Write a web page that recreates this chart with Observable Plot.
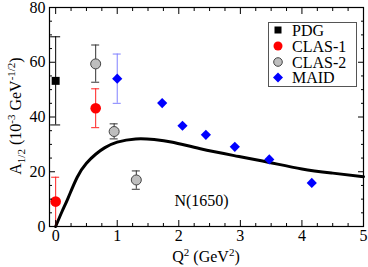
<!DOCTYPE html>
<html><head><meta charset="utf-8">
<script src="https://cdn.jsdelivr.net/npm/d3@7"></script>
<script src="https://cdn.jsdelivr.net/npm/@observablehq/plot@0.6"></script>
<style>body{margin:0;background:#fff} svg text{font-family:"Liberation Serif","Times New Roman",serif !important;}</style>
</head><body><div id="chart"></div>
<script>
// PDG
const pdgQ2 = [0.0];
const pdgA = [53.2];
const pdgLo = [37.1];
const pdgHi = [69.3];
// CLAS-1
const clas1Q2 = [0.0, 0.65];
const clas1A = [9.1, 43.2];
const clas1Lo = [0.0, 36.1];
const clas1Hi = [18.0, 50.3];
// CLAS-2
const clas2Q2 = [0.65, 0.95, 1.31];
const clas2A = [59.4, 34.7, 17.0];
const clas2Lo = [52.7, 32.0, 13.6];
const clas2Hi = [66.3, 37.5, 20.3];
// MAID
const maidQ2 = [1.0, 1.73, 2.06, 2.44, 2.91, 3.47, 4.16];
const maidA = [54.0, 45.1, 36.8, 33.5, 29.1, 24.5, 15.9];
const maidLo = [45.0, null, null, null, null, null, null];
const maidHi = [63.0, null, null, null, null, null, null];
// Model curve
const curveQ2 = [0, 0.1, 0.2, 0.35, 0.5, 0.65, 0.8, 1.0, 1.3, 1.6, 1.9, 2.35, 2.9, 3.45, 4.0, 4.5, 5.0];
const curveA  = [0, 5.3, 10.3, 18.0, 23.1, 26.4, 28.8, 30.8, 32.0, 31.8, 30.8, 28.4, 25.9, 23.5, 21.0, 19.5, 18.2];
// ticks
const xMajor = [0, 1, 2, 3, 4, 5];
const xMinor = d3.range(0, 5.001, 0.25).filter(v => Math.abs(v - Math.round(v)) > 1e-6);
const yMajor = [0, 20, 40, 60, 80];
const yMinor = d3.range(0, 80.001, 5).filter(v => v % 20 !== 0);
// annotation
const labelText = ["N(1650)"];
const labelQ2 = [2.37];
const labelA = [9.3];
// legend
const legendNames = ["PDG", "CLAS-1", "CLAS-2", "MAID"];

const mk = (X, Y, L, H) => X.map((x, i) => ({x, y: Y[i], lo: L ? L[i] : null, hi: H ? H[i] : null}));
const pdg = mk(pdgQ2, pdgA, pdgLo, pdgHi);
const clas1 = mk(clas1Q2, clas1A, clas1Lo, clas1Hi);
const clas2 = mk(clas2Q2, clas2A, clas2Lo, clas2Hi);
const maid = mk(maidQ2, maidA, maidLo, maidHi);
const maidErr = maid.filter(d => d.lo != null);
const curve = curveQ2.map((x, i) => ({x, y: curveA[i]}));
const ann = labelText.map((t, i) => ({t, x: labelQ2[i], y: labelA[i]}));

function errBars(data, color, cap) {
  return [
    Plot.ruleX(data, {x: "x", y1: "lo", y2: "hi", stroke: color, strokeWidth: 1}),
    Plot.ruleY(data, {x1: "x", x2: "x", y: "lo", stroke: color, strokeWidth: 1, insetLeft: -cap, insetRight: -cap}),
    Plot.ruleY(data, {x1: "x", x2: "x", y: "hi", stroke: color, strokeWidth: 1, insetLeft: -cap, insetRight: -cap})
  ];
}

const font = "Liberation Serif";
const plot = Plot.plot({
  width: 368, height: 267,
  marginLeft: 49, marginRight: 5, marginTop: 7, marginBottom: 41,
  style: {fontFamily: font, fontSize: "16px", background: "#fff", color: "#000"},
  x: {domain: [-0.1, 5]},
  y: {domain: [0, 80]},
  marks: [
    Plot.line(curve, {x: "x", y: "y", curve: "natural", stroke: "#000", strokeWidth: 3}),
    ...errBars(pdg, "#000", 5),
    ...errBars(clas1, "#ff2020", 4),
    ...errBars(clas2, "#333", 4),
    ...errBars(maidErr, "#8080ff", 4),
    Plot.dot(pdg, {x: "x", y: "y", symbol: "square", r: 4.5, fill: "#000", stroke: "none"}),
    Plot.dot(clas1, {x: "x", y: "y", symbol: "circle", r: 5.3, fill: "#ff0000", stroke: "none"}),
    Plot.dot(clas2, {x: "x", y: "y", symbol: "circle", r: 5, fill: "#bebebe", stroke: "#444", strokeWidth: 1}),
    Plot.dot(maid, {x: "x", y: "y", symbol: "diamond2", r: 4.6, fill: "#0000ff", stroke: "none"}),
    Plot.text(ann, {x: "x", y: "y", text: "t", fontSize: 16, fontFamily: font, fill: "#000"}),
    Plot.axisX({anchor: "bottom", ticks: xMajor, tickSize: -6, text: null, label: null}),
    Plot.axisX({anchor: "bottom", ticks: xMinor, tickSize: -3, text: null, label: null}),
    Plot.axisX({anchor: "top", ticks: xMajor, tickSize: -6, text: null, label: null}),
    Plot.axisX({anchor: "top", ticks: xMinor, tickSize: -3, text: null, label: null}),
    Plot.axisY({anchor: "left", ticks: yMajor, tickSize: -6, text: null, label: null}),
    Plot.axisY({anchor: "left", ticks: yMinor, tickSize: -3, text: null, label: null}),
    Plot.axisY({anchor: "right", ticks: yMajor, tickSize: -6, text: null, label: null}),
    Plot.axisY({anchor: "right", ticks: yMinor, tickSize: -3, text: null, label: null}),
    Plot.axisX({anchor: "bottom", ticks: xMajor, tickFormat: d3.format("d"), tickSize: 0, tickPadding: 3, label: null, fontSize: 16, fontFamily: font}),
    Plot.axisY({anchor: "left", ticks: yMajor, tickFormat: d3.format("d"), tickSize: 0, tickPadding: 4, label: null, fontSize: 16, fontFamily: font}),
    Plot.frame({stroke: "#000", strokeWidth: 1.2})
  ]
});
document.getElementById("chart").appendChild(plot);

const svg = d3.select(plot);
// y-axis label
const yl = svg.append("text")
  .attr("transform", "translate(21,116) rotate(-90)")
  .attr("text-anchor", "middle")
  .attr("font-family", font).attr("font-size", 16).attr("fill", "#000");
yl.append("tspan").text("A");
yl.append("tspan").attr("font-size", 11).attr("dy", 4).text("1/2");
yl.append("tspan").attr("dy", -4).text(" (10");
yl.append("tspan").attr("font-size", 11).attr("dy", -6).text("-3");
yl.append("tspan").attr("dy", 6).text(" GeV");
yl.append("tspan").attr("font-size", 11).attr("dy", -6).text("-1/2");
yl.append("tspan").attr("dy", 6).text(")");
// x-axis label
const xl = svg.append("text")
  .attr("x", 206).attr("y", 262)
  .attr("text-anchor", "middle")
  .attr("font-family", font).attr("font-size", 16).attr("fill", "#000");
xl.append("tspan").text("Q");
xl.append("tspan").attr("font-size", 11).attr("dy", -6).text("2");
xl.append("tspan").attr("dy", 6).text(" (GeV");
xl.append("tspan").attr("font-size", 11).attr("dy", -6).text("2");
xl.append("tspan").attr("dy", 6).text(")");
// legend
const lg = svg.append("g");
lg.append("rect").attr("x", 268.5).attr("y", 22.5).attr("width", 88).attr("height", 64)
  .attr("fill", "#fff").attr("stroke", "#555").attr("stroke-width", 1);
const ly = [30, 46, 62, 77.5];
const sx = 278;
lg.append("rect").attr("x", sx - 3.5).attr("y", ly[0] - 3.5).attr("width", 7).attr("height", 7).attr("fill", "#000");
lg.append("circle").attr("cx", sx).attr("cy", ly[1]).attr("r", 4.5).attr("fill", "#ff0000");
lg.append("circle").attr("cx", sx).attr("cy", ly[2]).attr("r", 4.3).attr("fill", "#bebebe").attr("stroke", "#444");
lg.append("path").attr("d", `M${sx},${ly[3]-5}L${sx+5},${ly[3]}L${sx},${ly[3]+5}L${sx-5},${ly[3]}Z`).attr("fill", "#0000ff");
legendNames.forEach((n, i) => {
  lg.append("text").attr("x", 292).attr("y", ly[i]).attr("dy", "0.35em").attr("text-anchor", "start")
    .attr("font-family", font).attr("font-size", 16).attr("fill", "#000").text(n);
});
</script>
</body></html>
